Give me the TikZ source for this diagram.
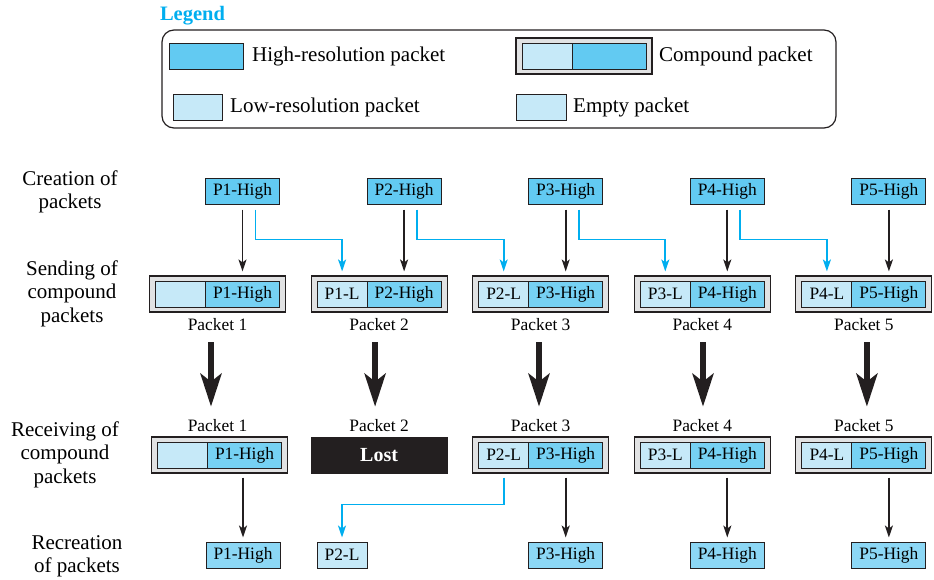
\documentclass[tikz,border=0pt]{standalone}
\usepackage{fontspec}
\setmainfont{Liberation Serif}
\usetikzlibrary{calc,arrows.meta}
\definecolor{ink}{HTML}{231F20}
\definecolor{hiA}{HTML}{62CAF2}
\definecolor{hiB}{HTML}{76D1F3}
\definecolor{hiC}{HTML}{8CD7F5}
\definecolor{loC}{HTML}{C6E9F8}
\definecolor{grayC}{HTML}{E1E2E3}
\definecolor{cyanC}{HTML}{00AEEF}
\newcommand\pktfont{\fontsize{17.4}{20}\selectfont}
\newcommand\bigfont{\fontsize{21}{23.5}\selectfont}
\newcommand\mkcpd[6]{%
  \node[outerbox] (#1) at (#2,#3) {};
  \node[lobox] (#1-lo) at ($(#1.center)+(-37,0)$) {#4};
  \node[hibox, fill=#6] (#1-hi) at ($(#1.center)+(25,0)$) {#5};
}
\begin{document}
\begin{tikzpicture}[x=1pt,y=-1pt,
  box/.style={draw=ink, line width=1pt, inner sep=0pt, minimum height=26pt, font=\pktfont},
  hibox/.style={box, fill=hiA, minimum width=74pt},
  lobox/.style={box, fill=loC, minimum width=50pt},
  outerbox/.style={draw=ink, line width=1.1pt, fill=grayC, minimum width=136pt, minimum height=36pt, inner sep=0pt},
  lostbox/.style={draw=ink, line width=1pt, fill=ink, minimum width=136pt, minimum height=36pt, inner sep=0pt, text=white, font=\bfseries\fontsize{20}{22}\selectfont},
  pktlab/.style={inner sep=0pt, font=\pktfont},
  rowlab/.style={inner sep=0pt, align=center, font=\bigfont},
  legtext/.style={inner sep=0pt, anchor=west, font=\bigfont},
  arr/.style={draw=ink, line width=1.7pt, -{Stealth[length=12pt,width=8pt,inset=3pt]}},
  bluearr/.style={draw=cyanC, line width=1.7pt, -{Stealth[length=12pt,width=8pt,inset=3pt]}},
  bigarr/.style={draw=ink, line width=5.5pt, -{Stealth[length=33pt,width=21pt,inset=8pt]}}
]
\useasboundingbox (0,0) rectangle (934,579);

% Legend
\node[inner sep=0pt, text=cyanC, font=\bfseries\fontsize{20.5}{24}\selectfont] (legtitle) at (192.5,16) {Legend};
\node[draw=ink, line width=1.2pt, rounded corners=12pt, minimum width=674pt, minimum height=98pt, inner sep=0pt] (legbox) at (499,79) {};
\node[hibox] (lgh) at (206,56) {};
\node[legtext] (lgtx1) at (252,56) {High-resolution packet};
\mkcpd{lgc}{584}{56}{}{}{hiA}
\node[legtext] (lgtx2) at (659,56) {Compound packet};
\node[lobox, minimum width=49pt] (lgl) at (197.5,107.5) {};
\node[legtext] (lgtx3) at (230,107.5) {Low-resolution packet};
\node[lobox] (lge) at (541,107.5) {};
\node[legtext] (lgtx4) at (573,107.5) {Empty packet};

% Row labels
\node[rowlab] (row1) at (70,192) {Creation of\\packets};
\node[rowlab] (row2) at (72,293.5) {Sending of\\compound\\packets};
\node[rowlab] (row3) at (65,454.5) {Receiving of\\compound\\packets};
\node[rowlab] (row4) at (77,556.5) {Recreation\\of packets};

% Creation and sending
\foreach \i/\X/\lo in {1/217.5/{},2/379.1/P1-L,3/540.7/P2-L,4/702.3/P3-L,5/863.9/P4-L}{
  \node[hibox] (c\i) at (\X+25,191) {P\i-High};
  \mkcpd{s\i}{\X}{294}{\lo}{P\i-High}{hiB}
  \node[pktlab] (sp\i) at (\X,325) {Packet \i};
  \node[pktlab] (rp\i) at (\X,426) {Packet \i};
  \draw[arr] ($(c\i.south)+(0,5)$) -- ($(s\i.north -| c\i.south)+(0,-4)$);
}
\foreach \i/\j in {1/2,2/3,3/4,4/5}{
  \draw[bluearr] ($(c\i.south)+(13,5)$) -- ++(0,30) -| ($(s\j.north -| s\j-lo.center)+(0,-4)$);
}
% big arrows
\foreach \i/\o in {1/-6.5,2/-4,3/-1.7,4/0.7,5/3}{
  \draw[bigarr] ($(sp\i.south)+(\o,11)$) -- ($(rp\i.north)+(\o,-13)$);
}

% Receiving
\mkcpd{r1}{219.5}{455}{}{P1-High}{hiB}
\node[lostbox] (r2) at (379.1,455) {Lost};
\mkcpd{r3}{540.7}{455}{P2-L}{P3-High}{hiB}
\mkcpd{r4}{702.3}{455}{P3-L}{P4-High}{hiB}
\mkcpd{r5}{863.9}{455}{P4-L}{P5-High}{hiB}

% Recreation
\node[hibox, fill=hiC] (t1) at (243,555) {P1-High};
\node[lobox] (t2) at (342,555) {P2-L};
\node[hibox, fill=hiC] (t3) at (565.7,555) {P3-High};
\node[hibox, fill=hiC] (t4) at (727.3,555) {P4-High};
\node[hibox, fill=hiC] (t5) at (888.9,555) {P5-High};

\foreach \i in {1,3,4,5}{
  \draw[arr] ($(r\i.south -| t\i.north)+(0,4)$) -- ($(t\i.north)+(0,-4)$);
}
\draw[bluearr] ($(r3.south -| r3-lo.center)+(0,4)$) -- ++(0,27) -| ($(t2.north)+(0,-4)$);
\end{tikzpicture}
\end{document}
